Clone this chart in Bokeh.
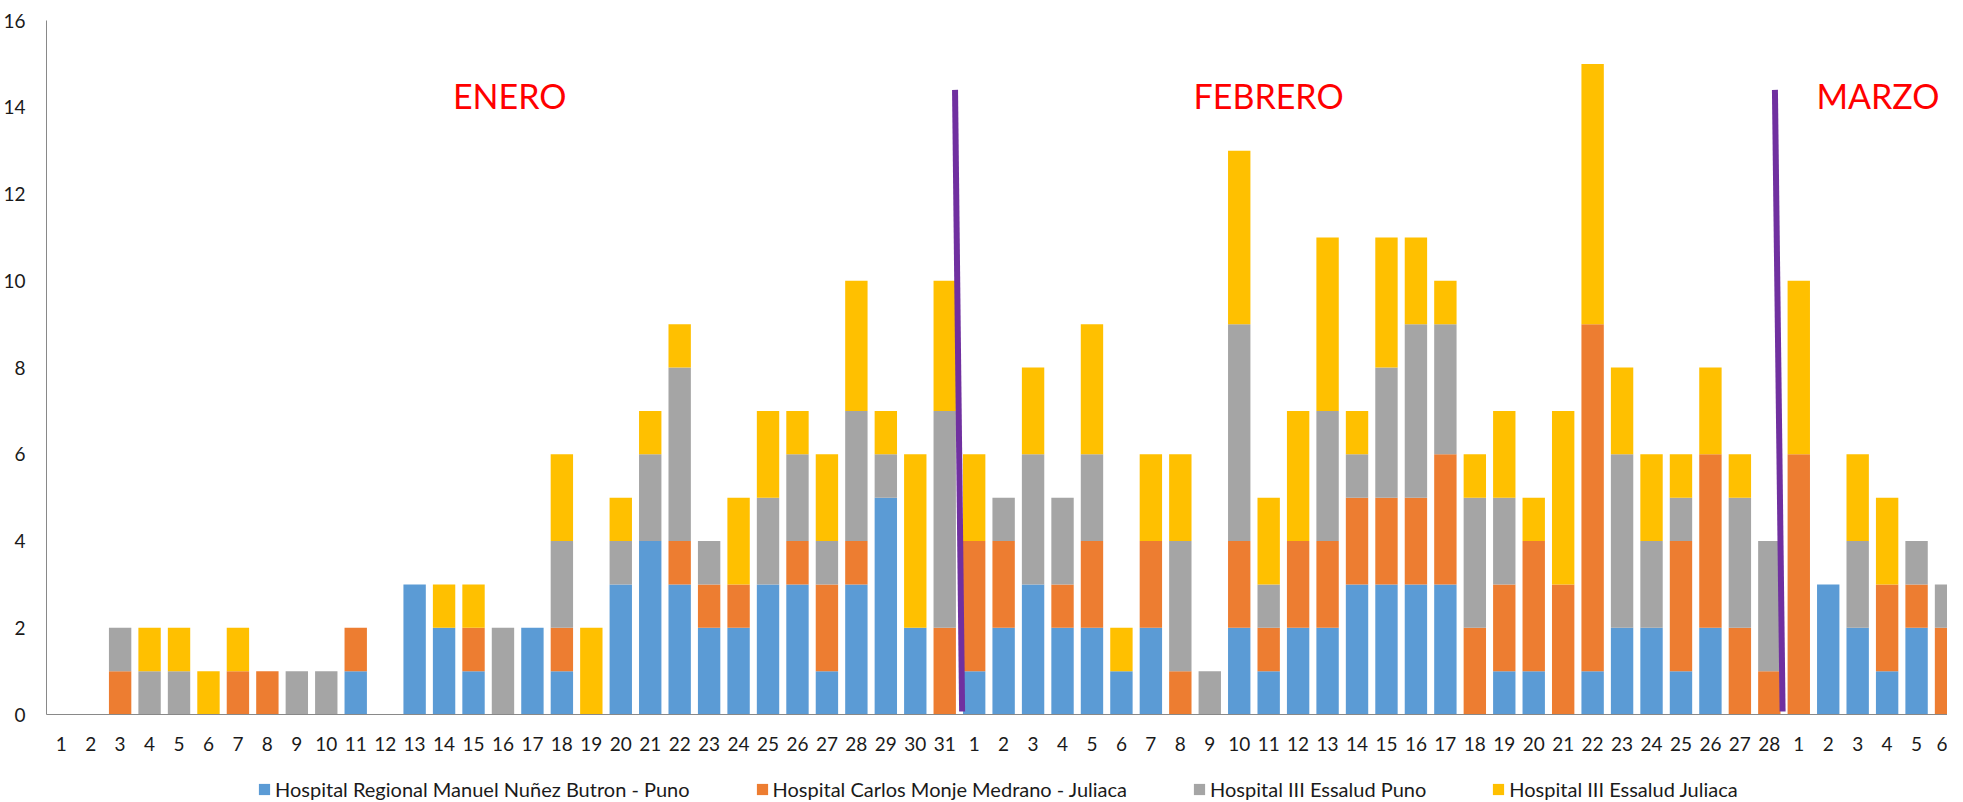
from bokeh.plotting import figure
from bokeh.layouts import column
from bokeh.models import ColumnDataSource, Range1d, FixedTicker, Legend
from bokeh.embed import file_html
from bokeh.resources import INLINE
from bokeh.core.properties import value

# ---- data ----
days = ([str(d) for d in range(1, 32)] + [str(d) for d in range(1, 29)]
        + [str(d) for d in range(1, 7)])

series_names = [
    "Hospital Regional Manuel Nuñez Butron - Puno",
    "Hospital Carlos Monje Medrano - Juliaca",
    "Hospital III Essalud Puno",
    "Hospital III Essalud Juliaca",
]

# Enero (31), Febrero (28), Marzo (6)
regional_puno = [0, 0, 0, 0, 0, 0, 0, 0, 0, 0, 1, 0, 3, 2, 1, 0, 2, 1, 0, 3,
                 4, 3, 2, 2, 3, 3, 1, 3, 5, 2, 0,
                 1, 2, 3, 2, 2, 1, 2, 0, 0, 2, 1, 2, 2, 3, 3, 3, 3, 0, 1, 1,
                 0, 1, 2, 2, 1, 2, 0, 0,
                 0, 3, 2, 1, 2, 0]
monje_juliaca = [0, 0, 1, 0, 0, 0, 1, 1, 0, 0, 1, 0, 0, 0, 1, 0, 0, 1, 0, 0,
                 0, 1, 1, 1, 0, 1, 2, 1, 0, 0, 2,
                 3, 2, 0, 1, 2, 0, 2, 1, 0, 2, 1, 2, 2, 2, 2, 2, 3, 2, 2, 3,
                 3, 8, 0, 0, 3, 4, 2, 1,
                 6, 0, 0, 2, 1, 2]
essalud_puno = [0, 0, 1, 1, 1, 0, 0, 0, 1, 1, 0, 0, 0, 0, 0, 2, 0, 2, 0, 1,
                2, 4, 1, 0, 2, 2, 1, 3, 1, 0, 5,
                0, 1, 3, 2, 2, 0, 0, 3, 1, 5, 1, 0, 3, 1, 3, 4, 3, 3, 2, 0,
                0, 0, 4, 2, 1, 0, 3, 3,
                0, 0, 2, 0, 1, 1]
essalud_juliaca = [0, 0, 0, 1, 1, 1, 1, 0, 0, 0, 0, 0, 0, 1, 1, 0, 0, 2, 2, 1,
                   1, 1, 0, 2, 2, 1, 2, 3, 1, 4, 3,
                   2, 0, 2, 0, 3, 1, 2, 2, 0, 4, 2, 3, 4, 1, 3, 2, 1, 1, 2, 1,
                   4, 6, 2, 2, 1, 2, 1, 0,
                   4, 0, 2, 2, 0, 0]

months = ["ENERO", "FEBRERO", "MARZO"]

colors = ["#5B9BD5", "#ED7D31", "#A5A5A5", "#FFC000"]
FONT = "Lato"

# ---- main chart ----
xpos = [i + 0.5 for i in range(len(days))]
keys = ["s0", "s1", "s2", "s3"]
source = ColumnDataSource(dict(x=xpos, s0=regional_puno, s1=monje_juliaca,
                               s2=essalud_puno, s3=essalud_juliaca))

p = figure(width=1947, height=758, output_backend="svg", toolbar_location=None,
           x_range=Range1d(0, 64.55), y_range=Range1d(0, 16),
           min_border_left=46, min_border_right=0, min_border_top=20,
           min_border_bottom=44)
p.outline_line_color = None
p.grid.grid_line_color = None

p.vbar_stack(keys, x="x", width=0.76, color=colors, source=source,
             line_color=None)

# month separators and labels (annotations)
p.segment(x0=[30.85, 58.69], y0=[14.4, 14.4], x1=[31.09, 58.95], y1=[0.07, 0.07],
          line_color="#7030A0", line_width=6)
p.text(x=[13.8, 38.95, 60.1], y=[14.28, 14.28, 14.28], text=months,
       text_color="#FF0000", text_font=value(FONT), text_font_size="34px",
       text_baseline="middle", text_align="left")

# axes
p.xaxis.ticker = FixedTicker(ticks=xpos)
p.xaxis.major_label_overrides = {x: d for x, d in zip(xpos, days)}
p.yaxis.ticker = FixedTicker(ticks=list(range(0, 17, 2)))
for ax in (p.xaxis, p.yaxis):
    ax.axis_line_color = "#898989"
    ax.major_tick_line_color = None
    ax.minor_tick_line_color = None
    ax.major_tick_in = 0
    ax.major_tick_out = 0
    ax.major_label_text_font = FONT
    ax.major_label_text_font_size = "19px"
    ax.major_label_text_color = "#1a1a1a"
p.xaxis.major_label_standoff = 22
p.yaxis.major_label_standoff = 21

# ---- legend strip (zero-width bars outside its visible range) ----
lg = figure(width=1947, height=44, output_backend="svg", toolbar_location=None,
            x_range=Range1d(1000, 1001), y_range=Range1d(1000, 1001),
            x_axis_type=None, y_axis_type=None, min_border=0)
lg.outline_line_color = None
lg.grid.grid_line_color = None
lg_renderers = lg.vbar_stack(keys, x="x", width=0, color=colors,
                             source=source, line_color=None)
legend = Legend(items=[(n, [r]) for n, r in zip(series_names, lg_renderers)],
                orientation="horizontal", location=(211, 1))
legend.label_text_font = FONT
legend.label_text_font_size = "20px"
legend.label_text_color = "#1a1a1a"
legend.glyph_width = 14
legend.glyph_height = 14
legend.label_standoff = 4
legend.spacing = 65
legend.padding = 0
legend.margin = 0
legend.border_line_color = None
legend.background_fill_alpha = 0
lg.add_layout(legend)

layout = column(p, lg, spacing=0)
open("out.html", "w").write(file_html(layout, INLINE))
